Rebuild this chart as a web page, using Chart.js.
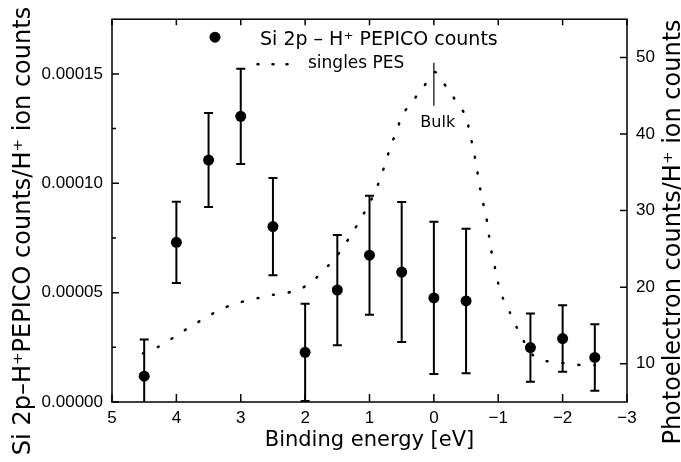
<!DOCTYPE html>
<html>
<head>
<meta charset="utf-8">
<script src="https://cdn.jsdelivr.net/npm/chart.js@4.4.1/dist/chart.umd.min.js"></script>
<style>
  html, body { margin: 0; padding: 0; background: #fff; }
  #wrap { width: 681px; height: 462px; }
</style>
</head>
<body>
<div id="wrap"><canvas id="pepicoChart" width="681" height="462"></canvas></div>
<script>
// Si 2p - H+ PEPICO counts / H+ ion counts (left axis), symmetric error bars
const energies = [4.5, 4, 3.5, 3, 2.5, 2, 1.5, 1, 0.5, 0, -0.5, -1.5, -2, -2.5];
const pepicoRatio = [0.0000118, 0.0000730, 0.0001106, 0.0001306, 0.0000802, 0.0000227, 0.0000512,
                     0.0000671, 0.0000594, 0.0000476, 0.0000462, 0.0000249, 0.0000290, 0.0000204];
const pepicoError = [0.0000168, 0.0000186, 0.0000215, 0.0000218, 0.0000222, 0.0000222, 0.0000252,
                     0.0000272, 0.0000320, 0.0000348, 0.0000330, 0.0000156, 0.0000152, 0.0000152];

// singles PES, photoelectron counts / H+ ion counts (right axis)
const pesEnergy = [4.52, 4.27, 4.05, 3.83, 3.60, 3.38, 3.17, 2.93, 2.72, 2.50, 2.28, 2.06, 1.83, 1.63,
                   1.44, 1.29, 1.15, 1.01, 0.90, 0.82, 0.74, 0.67, 0.57, 0.50, 0.32, 0.15, -0.02,
                   -0.19, -0.36, -0.51, -0.55, -0.61, -0.65, -0.69, -0.73, -0.78, -0.83, -0.86, -0.90,
                   -0.95, -1.00, -1.07, -1.18, -1.29, -1.40, -1.54, -1.71, -1.91, -2.16, -2.38, -2.50];
const pesCounts = [11.35, 12.25, 13.4, 14.6, 15.75, 16.8, 17.6, 18.2, 18.6, 19.0, 19.25, 19.8, 21.2, 22.9,
                   24.8, 26.8, 28.7, 30.8, 32.7, 34.5, 36.5, 38.5, 40.5, 42.4, 44.4, 46.3, 48.1,
                   46.2, 44.1, 42.2, 40.2, 38.3, 36.3, 34.4, 32.3, 30.4, 28.4, 26.5, 24.4,
                   22.5, 20.5, 18.6, 16.7, 14.7, 12.9, 11.1, 10.4, 10.2, 9.9, 9.8, 9.8];

// tick labels
const xTicks = [5, 4, 3, 2, 1, 0, -1, -2, -3];
const leftTicks = [0, 0.00005, 0.0001, 0.00015];
const leftMinorTicks = [0.000025, 0.000075, 0.000125];
const rightTicks = [10, 20, 30, 40, 50];

// "Bulk" marker, in energy / right axis units
const bulkMark = { x: 0, top: 49.3, bottom: 43.7, label: 'Bulk', labelX: -0.06, labelY: 41.4 };

const tickFont = { family: '"Liberation Sans", Arial, sans-serif', size: 17 };
const titleFont = '"DejaVu Sans", sans-serif';

const decorPlugin = {
    id: 'decor',
    beforeDatasetsDraw(chart) {
        // error bars, behind the markers
        const { ctx, chartArea: a, scales: { x, y } } = chart;
        ctx.save();
        ctx.beginPath();
        ctx.rect(a.left, a.top, a.right - a.left, a.bottom - a.top);
        ctx.clip();
        ctx.strokeStyle = '#000';
        ctx.lineWidth = 2;
        energies.forEach((e, i) => {
            const px = x.getPixelForValue(e);
            const hi = y.getPixelForValue(pepicoRatio[i] + pepicoError[i]);
            const lo = y.getPixelForValue(pepicoRatio[i] - pepicoError[i]);
            ctx.beginPath();
            ctx.moveTo(px, hi); ctx.lineTo(px, lo);
            ctx.moveTo(px - 4.5, hi); ctx.lineTo(px + 4.5, hi);
            ctx.moveTo(px - 4.5, lo); ctx.lineTo(px + 4.5, lo);
            ctx.stroke();
        });
        ctx.restore();
    },
    afterDraw(chart) {
        const { ctx, chartArea: a, scales: { x, y, y2 } } = chart;
        ctx.save();
        ctx.strokeStyle = '#000';
        ctx.fillStyle = '#000';

        // frame
        ctx.lineWidth = 1.5;
        ctx.strokeRect(a.left, a.top, a.right - a.left, a.bottom - a.top);

        // inward ticks
        ctx.beginPath();
        xTicks.forEach(v => {
            const px = x.getPixelForValue(v);
            ctx.moveTo(px, a.bottom); ctx.lineTo(px, a.bottom - 8);
            ctx.moveTo(px, a.top); ctx.lineTo(px, a.top + 6);
        });
        leftTicks.forEach(v => {
            const py = y.getPixelForValue(v);
            ctx.moveTo(a.left, py); ctx.lineTo(a.left + 7, py);
        });
        leftMinorTicks.forEach(v => {
            const py = y.getPixelForValue(v);
            ctx.moveTo(a.left, py); ctx.lineTo(a.left + 4, py);
        });
        rightTicks.forEach(v => {
            const py = y2.getPixelForValue(v);
            ctx.moveTo(a.right, py); ctx.lineTo(a.right - 7, py);
        });
        ctx.stroke();

        // Bulk marker
        ctx.lineWidth = 1.2;
        ctx.beginPath();
        ctx.moveTo(x.getPixelForValue(bulkMark.x), y2.getPixelForValue(bulkMark.top));
        ctx.lineTo(x.getPixelForValue(bulkMark.x), y2.getPixelForValue(bulkMark.bottom));
        ctx.stroke();
        ctx.font = '16px ' + titleFont;
        ctx.textAlign = 'center';
        ctx.textBaseline = 'middle';
        ctx.fillText(bulkMark.label, x.getPixelForValue(bulkMark.labelX), y2.getPixelForValue(bulkMark.labelY));

        // legend
        ctx.beginPath();
        ctx.arc(a.left + 103, a.top + 18, 5.5, 0, Math.PI * 2);
        ctx.fill();
        ctx.textAlign = 'left';
        ctx.font = '19px ' + titleFont;
        ctx.fillText('Si 2p \u2013 H\u207A PEPICO counts', a.left + 148, a.top + 21);
        ctx.lineWidth = 2.5;
        ctx.lineCap = 'round';
        ctx.beginPath();
        [146, 161, 175].forEach(dx => {
            ctx.moveTo(a.left + dx - 0.5, a.top + 45);
            ctx.lineTo(a.left + dx + 0.5, a.top + 45);
        });
        ctx.stroke();
        ctx.font = '17px ' + titleFont;
        ctx.fillText('singles PES', a.left + 196, a.top + 44);

        // axis titles
        ctx.font = '21px ' + titleFont;
        ctx.textAlign = 'center';
        ctx.textBaseline = 'alphabetic';
        ctx.fillText('Binding energy [eV]', (a.left + a.right) / 2, 446);

        ctx.font = '24px ' + titleFont;
        ctx.translate(30, 231);
        ctx.rotate(-Math.PI / 2);
        ctx.fillText('Si 2p\u2013H\u207APEPICO counts/H\u207A ion counts', 0, 0);
        ctx.rotate(Math.PI / 2);
        ctx.translate(-30, -231);

        ctx.translate(680, 232);
        ctx.rotate(-Math.PI / 2);
        ctx.fillText('Photoelectron counts/H\u207A ion counts', 0, 0);
        ctx.restore();
    }
};

function initChart() {
    const ctx = document.getElementById('pepicoChart').getContext('2d');
    return new Chart(ctx, {
        type: 'scatter',
        data: {
            datasets: [
                {
                    label: 'Si 2p - H+ PEPICO counts',
                    data: energies.map((e, i) => ({ x: e, y: pepicoRatio[i] })),
                    yAxisID: 'y',
                    pointRadius: 5.5,
                    pointBackgroundColor: '#000',
                    pointBorderWidth: 0,
                },
                {
                    type: 'line',
                    label: 'singles PES',
                    data: pesEnergy.map((e, i) => ({ x: e, y: pesCounts[i] })),
                    yAxisID: 'y2',
                    borderColor: '#000',
                    borderWidth: 2.5,
                    borderDash: [1, 15],
                    borderCapStyle: 'round',
                    pointRadius: 0,
                    tension: 0.2,
                    fill: false,
                }
            ]
        },
        options: {
            responsive: false,
            devicePixelRatio: 1,
            animation: false,
            layout: { padding: { top: 16, left: 0, right: 0, bottom: 0 } },
            plugins: { legend: { display: false }, tooltip: { enabled: false } },
            scales: {
                x: {
                    type: 'linear',
                    position: 'bottom',
                    reverse: true,
                    min: -3,
                    max: 5,
                    grid: { display: false, drawTicks: false },
                    border: { display: false },
                    afterBuildTicks: s => { s.ticks = xTicks.map(v => ({ value: v })); },
                    ticks: {
                        color: '#000', font: tickFont, padding: 6, autoSkip: false, maxRotation: 0,
                        callback: v => String(v).replace('-', '\u2212')
                    },
                    afterFit: s => { s.height = 60; }
                },
                y: {
                    type: 'linear',
                    position: 'left',
                    min: 0,
                    max: 0.000175,
                    grid: { display: false, drawTicks: false },
                    border: { display: false },
                    afterBuildTicks: s => { s.ticks = leftTicks.map(v => ({ value: v })); },
                    ticks: { color: '#000', font: tickFont, padding: 9, callback: v => v.toFixed(5) },
                    afterFit: s => { s.width = 112; }
                },
                y2: {
                    type: 'linear',
                    position: 'right',
                    min: 5,
                    max: 55,
                    grid: { display: false, drawTicks: false },
                    border: { display: false },
                    afterBuildTicks: s => { s.ticks = rightTicks.map(v => ({ value: v })); },
                    ticks: { color: '#000', font: tickFont, padding: 9 },
                    afterFit: s => { s.width = 54; }
                }
            }
        },
        plugins: [decorPlugin]
    });
}

initChart();
</script>
</body>
</html>
